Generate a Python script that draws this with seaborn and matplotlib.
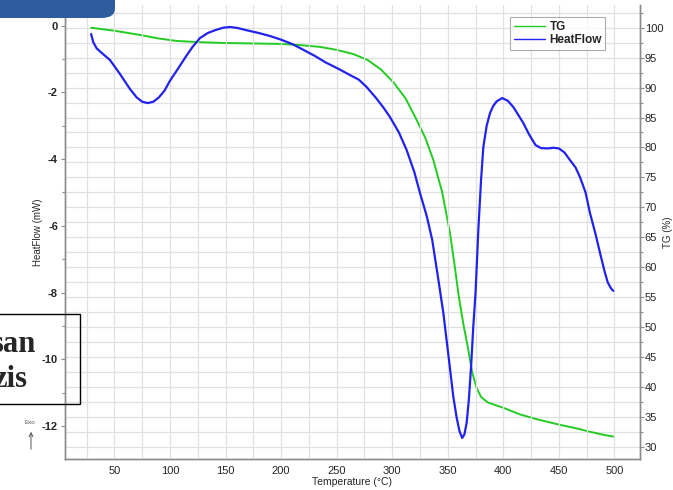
import numpy as np
import pandas as pd
import matplotlib
matplotlib.use("Agg")
import matplotlib.pyplot as plt
from matplotlib.patches import FancyBboxPatch, Rectangle, FancyArrowPatch
from matplotlib.ticker import MultipleLocator
import seaborn as sns

# HeatFlow curve (left axis, mW)
hf_temp = [29, 31, 34, 38, 46, 55, 64, 70, 75, 80, 85, 90, 95, 100, 107, 114, 120,
           127, 134, 141, 148, 154, 161, 168, 180, 190, 200, 210, 217, 230, 240, 252,
           262, 270, 277, 285, 292, 298, 306, 313, 320, 325, 331, 336, 341, 346, 351,
           355, 358, 360.5, 363, 365, 367, 369, 371, 373, 375, 377.5, 380, 382, 385,
           388, 391, 394, 399, 404, 409, 413, 418, 423, 429, 434, 440, 445, 450, 455,
           460, 465, 469, 474, 478, 483, 487, 491, 494, 497, 499]
hf_vals = [-0.25, -0.5, -0.68, -0.8, -1.03, -1.45, -1.9, -2.15, -2.28, -2.32, -2.28,
           -2.15, -1.95, -1.65, -1.3, -0.94, -0.65, -0.37, -0.22, -0.13, -0.06, -0.04,
           -0.07, -0.13, -0.22, -0.31, -0.42, -0.55, -0.67, -0.9, -1.1, -1.3, -1.48,
           -1.62, -1.84, -2.15, -2.45, -2.74, -3.2, -3.73, -4.4, -5.02, -5.7, -6.42,
           -7.5, -8.61, -10.0, -11.13, -11.75, -12.15, -12.36, -12.25, -11.9, -11.2,
           -10.2, -9.0, -8.0, -6.12, -4.6, -3.64, -3.0, -2.62, -2.4, -2.27, -2.17,
           -2.25, -2.44, -2.65, -2.92, -3.25, -3.58, -3.67, -3.68, -3.66, -3.68, -3.8,
           -4.03, -4.25, -4.54, -5.0, -5.62, -6.25, -6.81, -7.35, -7.7, -7.88, -7.95]

# TG curve (right axis, %)
tg_temp = [29, 50, 73, 90, 106, 125, 150, 200, 217, 235, 250, 265, 278, 290, 301, 312,
           322, 330, 337, 345, 352, 356, 360, 364, 368, 372, 376, 380, 386, 400, 415,
           430, 450, 465, 478, 490, 499]
tg_vals = [100.0, 99.5, 98.8, 98.2, 97.8, 97.6, 97.45, 97.3, 97.1, 96.8, 96.3, 95.6,
           94.6, 93.0, 90.9, 88.2, 84.6, 81.5, 77.9, 72.5, 65.7, 60.5, 55.0, 50.5,
           46.7, 42.4, 39.8, 38.3, 37.4, 36.5, 35.4, 34.6, 33.7, 33.1, 32.5, 32.0, 31.7]

hf = pd.DataFrame({"Temperature": hf_temp, "HeatFlow": hf_vals})
tg = pd.DataFrame({"Temperature": tg_temp, "TG": tg_vals})

sns.set_style("white")
plt.rcParams["font.family"] = ["Liberation Sans", "DejaVu Sans"]
plt.rcParams["axes.unicode_minus"] = False

green = "#22cc22"
blue = "#2222ee"
grid_c = "#e0e0e0"
spine_c = "#8c8c8c"

fig = plt.figure(figsize=(6.73, 4.90), dpi=100)
ax = fig.add_axes([65 / 673, 31 / 490, 575 / 673, 454 / 490])
ax2 = ax.twinx()
ax.set_zorder(ax2.get_zorder() + 1)
ax.patch.set_visible(False)

sns.lineplot(data=tg, x="Temperature", y="TG", ax=ax2, color=green, lw=1.4,
             sort=False, label="TG", legend=False, solid_joinstyle="round")
sns.lineplot(data=hf, x="Temperature", y="HeatFlow", ax=ax, color=blue, lw=1.6,
             sort=False, label="HeatFlow", legend=False, solid_joinstyle="round")

ax.set_xlim(5.5, 523)
ax.set_ylim(-12.99, 0.62)
ax2.set_ylim(27.95, 103.8)

ax.xaxis.set_major_locator(MultipleLocator(50))
ax.xaxis.set_minor_locator(MultipleLocator(25))
ax.yaxis.set_major_locator(MultipleLocator(2))
ax.yaxis.set_minor_locator(MultipleLocator(1))
ax2.yaxis.set_major_locator(MultipleLocator(5))
ax2.yaxis.set_minor_locator(MultipleLocator(2.5))

ax.grid(True, axis="x", which="both", color=grid_c, lw=0.9)
ax2.grid(True, axis="y", which="both", color=grid_c, lw=0.9)
ax.grid(False, axis="y", which="both")

for a in (ax, ax2):
    a.spines["top"].set_visible(False)
    for s in ("left", "right", "bottom"):
        a.spines[s].set_color(spine_c)
        a.spines[s].set_linewidth(1.0)
    a.tick_params(which="both", direction="out", color=spine_c, length=3, width=0.8)
    a.tick_params(which="minor", length=2)

ax.tick_params(axis="x", labelsize=8, pad=2)
ax.tick_params(axis="y", labelsize=8, pad=2)
for lab in ax.get_yticklabels():
    lab.set_fontweight("bold")
ax2.tick_params(axis="y", labelsize=8, pad=0.5)

ax.set_xlabel("Temperature (°C)", fontsize=7.5, labelpad=1)
ax.set_ylabel("HeatFlow (mW)", fontsize=7, labelpad=-1)
ax2.set_ylabel("TG (%)", fontsize=7, labelpad=0)

h1, l1 = ax2.get_legend_handles_labels()
h2, l2 = ax.get_legend_handles_labels()
leg = ax.legend(h1 + h2, l1 + l2, loc="upper right", bbox_to_anchor=(0.95, 0.986),
                fontsize=8.5, frameon=True, fancybox=False, borderpad=0.3,
                handlelength=2.6, handletextpad=0.4, labelspacing=0.1)
leg.get_frame().set_edgecolor("#999999")
leg.get_frame().set_linewidth(0.8)
for t in leg.get_texts():
    t.set_fontweight("bold")
for ln in leg.get_lines():
    ln.set_linewidth(1.0)

# overlays from the screenshot
W, H = 673, 490
fig.patches.append(FancyBboxPatch((-20 / W, 1 - 18 / H), 135 / W, 40 / H,
                                  boxstyle="round,pad=0,rounding_size=0.02",
                                  transform=fig.transFigure, facecolor="#2f5c9c",
                                  edgecolor="none", zorder=10))
fig.patches.append(Rectangle((-5 / W, 1 - 404 / H), 85 / W, 90 / H,
                             transform=fig.transFigure, facecolor="none",
                             edgecolor="black", lw=1.0, zorder=10))
fig.text(36 / W, 1 - 352 / H, "san", ha="right", va="baseline", fontsize=22,
         fontweight="bold", family=["Liberation Serif"], zorder=11)
fig.text(27 / W, 1 - 387 / H, "zis", ha="right", va="baseline", fontsize=22,
         fontweight="bold", family=["Liberation Serif"], zorder=11)
fig.text(30 / W, 1 - 422 / H, "Exo", ha="center", va="center", fontsize=4.5,
         color="#555555")
fig.add_artist(FancyArrowPatch((31 / W, 1 - 452 / H), (31 / W, 1 - 429 / H),
                               transform=fig.transFigure, arrowstyle="->",
                               mutation_scale=7, color="#555555", lw=0.7))

fig.savefig("out.png", dpi=100)
